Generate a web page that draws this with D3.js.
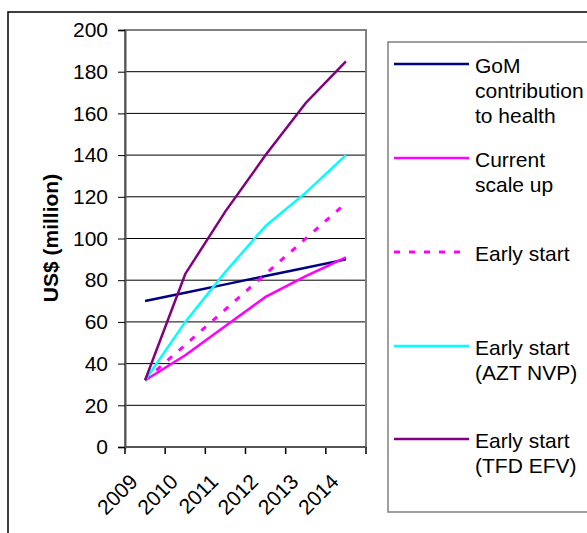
<!DOCTYPE html>
<html><head><meta charset="utf-8">
<script src="https://cdn.jsdelivr.net/npm/d3@7"></script>
<style>body{margin:0;background:#fff}svg{display:block}text{font-family:"Liberation Sans",Arial,sans-serif}</style>
</head><body>
<script>
const years = ["2009","2010","2011","2012","2013","2014"];
const yTicks = [0,20,40,60,80,100,120,140,160,180,200];
const seriesNames = [["GoM","contribution","to health"],["Current","scale up"],["Early start"],["Early start","(AZT NVP)"],["Early start","(TFD EFV)"]];
const gom = [70,74,78,82,86,90];
const currentScaleUp = [32,44,58,72,82,91];
const earlyStart = [32,49,66,83,100,117];
const earlyAzt = [32,60,84,106,122,140];
const earlyTfd = [32,83,113,140,165,185];
const colors = ["#000080","#FF00FF","#FF00FF","#00FFFF","#800080"];
const dashes = [null,null,"6,9",null,null];

const W=587,H=533,FS=21;
const svg=d3.select("body").append("svg").attr("width",W).attr("height",H);
svg.append("rect").attr("x",8).attr("y",12).attr("width",W).attr("height",H).attr("fill","none").attr("stroke","#000").attr("stroke-width",1.5);

const L=125,R=366,T=30,B=447;
const x=d3.scaleBand().domain(years).range([L,R]);
const y=d3.scaleLinear().domain([0,200]).range([B,T]);

// gridlines
svg.append("g").selectAll("line").data(yTicks.filter(v=>v>0&&v<200)).join("line")
 .attr("x1",L).attr("x2",R).attr("y1",d=>y(d)).attr("y2",d=>y(d)).attr("stroke","#000").attr("stroke-width",1);
// frame
svg.append("rect").attr("x",L).attr("y",T).attr("width",R-L).attr("height",B-T).attr("fill","none").attr("stroke","#808080").attr("stroke-width",2);

// y axis
const ya=svg.append("g").attr("transform",`translate(${L},0)`).call(d3.axisLeft(y).tickValues(yTicks).tickSize(7).tickPadding(10));
ya.select(".domain").attr("stroke","#555").attr("stroke-width",2);
ya.selectAll("text").style("font-size",FS+"px").attr("fill","#000");
ya.selectAll("line").attr("stroke","#000");
// x axis ticks at boundaries
const bounds=years.map(d=>x(d)).concat([R]);
svg.append("g").selectAll("line").data(bounds).join("line")
 .attr("x1",d=>d).attr("x2",d=>d).attr("y1",B).attr("y2",B+7).attr("stroke","#000").attr("stroke-width",1.5);
svg.append("line").attr("x1",L).attr("x2",R).attr("y1",B).attr("y2",B).attr("stroke","#555").attr("stroke-width",2);
svg.append("g").selectAll("text").data(years).join("text")
 .attr("transform",d=>`translate(${x(d)+x.bandwidth()/2-6},${483}) rotate(-45)`)
 .attr("text-anchor","end").style("font-size",FS+"px").text(d=>d);

// y title
svg.append("text").attr("transform","translate(58,238) rotate(-90)").attr("text-anchor","middle")
 .style("font-size",FS+"px").attr("font-weight","bold").text("US$ (million)");

// lines
const data=[gom,currentScaleUp,earlyStart,earlyAzt,earlyTfd];
const line=d3.line().x((d,i)=>x(years[i])+x.bandwidth()/2).y(d=>y(d));
data.forEach((s,i)=>{
 svg.append("path").attr("d",line(s)).attr("fill","none").attr("stroke",colors[i]).attr("stroke-width",dashes[i]?3:2.5)
  .attr("stroke-dasharray",dashes[i]);
});

// legend
svg.append("rect").attr("x",388).attr("y",42).attr("width",260).attr("height",470).attr("fill","none").attr("stroke","#808080").attr("stroke-width",1.5);
const legY=[64,158,252,346,439];
seriesNames.forEach((names,i)=>{
 svg.append("line").attr("x1",394).attr("x2",469).attr("y1",legY[i]).attr("y2",legY[i]).attr("stroke",colors[i]).attr("stroke-width",dashes[i]?3:2.5).attr("stroke-dasharray",dashes[i]);
 const t=svg.append("text").attr("x",475).attr("y",legY[i]).style("font-size",FS+"px");
 names.forEach((n,j)=>t.append("tspan").attr("x",475).attr("y",legY[i]+2+j*25).attr("dy","0.35em").text(n));
});
</script>
</body></html>
